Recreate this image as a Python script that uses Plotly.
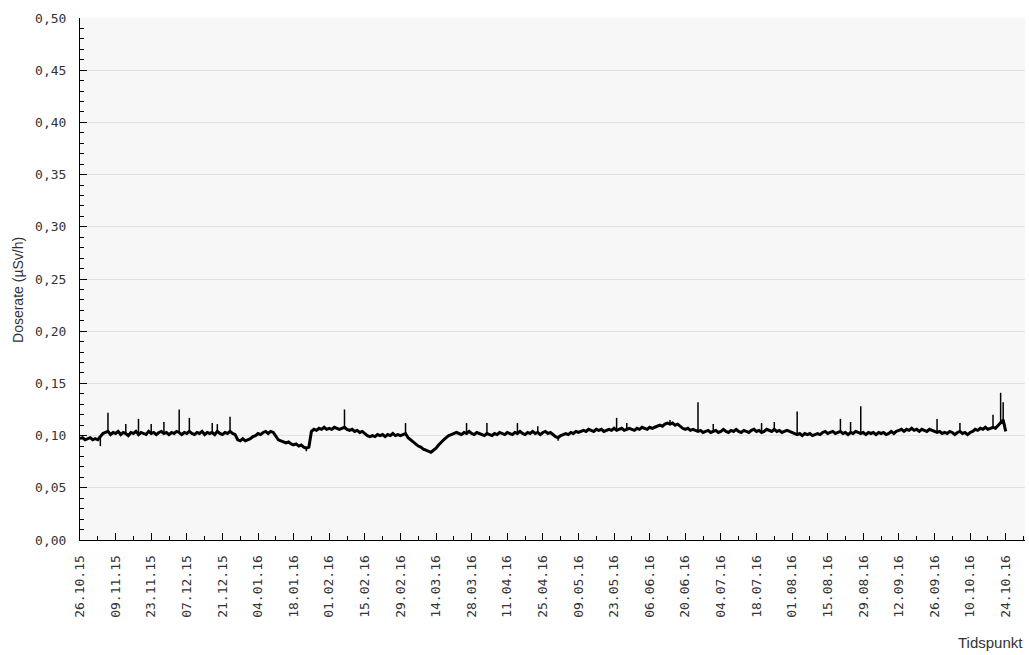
import pandas as pd
import plotly.graph_objects as go

# Daily dose-rate readings (µSv/h)
oct15 = [0.097, 0.098, 0.096, 0.097, 0.098, 0.096]
nov15 = [0.097, 0.096, 0.099, 0.102, 0.103, 0.104, 0.101, 0.103, 0.102, 0.104,
         0.101, 0.103, 0.102, 0.100, 0.103, 0.102, 0.104, 0.101, 0.103, 0.102,
         0.101, 0.104, 0.102, 0.103, 0.101, 0.103, 0.104, 0.102, 0.103, 0.101]
dec15 = [0.103, 0.102, 0.104, 0.103, 0.101, 0.103, 0.102, 0.104, 0.102, 0.101,
         0.103, 0.102, 0.104, 0.101, 0.103, 0.102, 0.103, 0.101, 0.104, 0.102,
         0.101, 0.103, 0.102, 0.104, 0.102, 0.101, 0.096, 0.095, 0.097, 0.095, 0.096]
jan16 = [0.097, 0.099, 0.100, 0.102, 0.101, 0.103, 0.104, 0.102, 0.104, 0.103,
         0.099, 0.096, 0.095, 0.094, 0.093, 0.094, 0.092, 0.091, 0.092, 0.090,
         0.091, 0.089, 0.088, 0.089, 0.104, 0.106, 0.105, 0.107, 0.106, 0.108, 0.106]
feb16 = [0.107, 0.106, 0.108, 0.107, 0.106, 0.107, 0.108, 0.106, 0.105, 0.106,
         0.104, 0.105, 0.103, 0.104, 0.102, 0.100, 0.099, 0.100, 0.099, 0.101,
         0.100, 0.101, 0.099, 0.101, 0.100, 0.102, 0.100, 0.101, 0.100]
mar16 = [0.101, 0.102, 0.098, 0.096, 0.094, 0.092, 0.090, 0.089, 0.087, 0.086,
         0.085, 0.084, 0.086, 0.088, 0.091, 0.094, 0.096, 0.098, 0.100, 0.101,
         0.102, 0.103, 0.102, 0.101, 0.103, 0.102, 0.104, 0.102, 0.101, 0.103, 0.102]
apr16 = [0.101, 0.100, 0.102, 0.101, 0.100, 0.102, 0.101, 0.103, 0.102, 0.101,
         0.103, 0.102, 0.101, 0.103, 0.102, 0.104, 0.102, 0.101, 0.103, 0.102,
         0.104, 0.102, 0.103, 0.101, 0.103, 0.104, 0.102, 0.103, 0.101, 0.099]
may16 = [0.098, 0.100, 0.101, 0.102, 0.101, 0.103, 0.102, 0.104, 0.103, 0.104,
         0.105, 0.104, 0.106, 0.105, 0.104, 0.106, 0.105, 0.106, 0.104, 0.105,
         0.106, 0.105, 0.107, 0.105, 0.106, 0.107, 0.105, 0.106, 0.107, 0.106, 0.105]
jun16 = [0.107, 0.106, 0.108, 0.107, 0.106, 0.108, 0.107, 0.108, 0.109, 0.110,
         0.109, 0.111, 0.112, 0.111, 0.112, 0.110, 0.111, 0.109, 0.107, 0.106,
         0.107, 0.105, 0.106, 0.105, 0.104, 0.105, 0.103, 0.104, 0.105, 0.103]
jul16 = [0.104, 0.105, 0.103, 0.104, 0.106, 0.104, 0.103, 0.105, 0.104, 0.106,
         0.104, 0.103, 0.105, 0.104, 0.103, 0.105, 0.106, 0.104, 0.105, 0.103,
         0.104, 0.106, 0.105, 0.104, 0.106, 0.104, 0.105, 0.103, 0.104, 0.105, 0.104]
aug16 = [0.103, 0.102, 0.101, 0.102, 0.100, 0.102, 0.101, 0.102, 0.100, 0.101,
         0.102, 0.101, 0.103, 0.104, 0.102, 0.103, 0.104, 0.102, 0.103, 0.104,
         0.102, 0.103, 0.101, 0.103, 0.102, 0.104, 0.103, 0.102, 0.103, 0.101, 0.103]
sep16 = [0.102, 0.103, 0.101, 0.103, 0.102, 0.103, 0.101, 0.102, 0.104, 0.102,
         0.104, 0.105, 0.106, 0.104, 0.106, 0.105, 0.107, 0.105, 0.106, 0.104,
         0.106, 0.105, 0.104, 0.106, 0.105, 0.104, 0.103, 0.104, 0.102, 0.103]
oct16 = [0.102, 0.104, 0.103, 0.101, 0.103, 0.104, 0.102, 0.103, 0.101, 0.103,
         0.104, 0.106, 0.105, 0.107, 0.106, 0.108, 0.106, 0.107, 0.108, 0.107,
         0.110, 0.112, 0.115, 0.104]

# Short-lived peaks / dips between daily readings
spike_times = ["2015-11-03", "2015-11-06", "2015-11-13", "2015-11-18",
               "2015-11-23", "2015-11-28", "2015-12-04", "2015-12-08",
               "2015-12-17", "2015-12-19", "2015-12-24", "2016-01-23",
               "2016-02-07", "2016-03-02", "2016-03-26", "2016-04-03",
               "2016-04-15", "2016-04-23", "2016-05-01", "2016-05-24",
               "2016-05-28", "2016-06-14", "2016-06-25", "2016-07-01",
               "2016-07-20", "2016-07-25", "2016-08-03", "2016-08-20",
               "2016-08-24", "2016-08-28", "2016-09-27", "2016-10-06",
               "2016-10-19", "2016-10-22", "2016-10-23"]
spike_values = [0.090, 0.122, 0.111, 0.116,
                0.111, 0.113, 0.125, 0.117,
                0.112, 0.111, 0.118, 0.085,
                0.125, 0.112, 0.112, 0.112,
                0.112, 0.109, 0.095, 0.117,
                0.112, 0.115, 0.132, 0.111,
                0.112, 0.113, 0.123, 0.116,
                0.113, 0.128, 0.116, 0.112,
                0.120, 0.141, 0.132]

daily_values = (oct15 + nov15 + dec15 + jan16 + feb16 + mar16 + apr16 + may16 +
                jun16 + jul16 + aug16 + sep16 + oct16)
daily = pd.Series(daily_values,
                  index=pd.date_range("2015-10-26", periods=len(daily_values), freq="D"))

# vertical spike segments starting from that day's reading
sx, sy = [], []
for t, v in zip(pd.to_datetime(spike_times), spike_values):
    sx += [t, t, None]
    sy += [daily[t], v, None]

fig = go.Figure()
fig.add_trace(go.Scatter(
    x=daily.index, y=daily.values, mode="lines",
    line=dict(color="black", width=3), showlegend=False,
))
fig.add_trace(go.Scatter(
    x=sx, y=sy, mode="lines",
    line=dict(color="black", width=1.5), showlegend=False,
))

tick_font = dict(family="DejaVu Sans Mono", size=13, color="#333333")
fig.update_layout(
    width=1029, height=655, autosize=False,
    margin=dict(l=80, r=4, t=18, b=115),
    paper_bgcolor="white", plot_bgcolor="#f7f7f7",
    separators=", ",
    showlegend=False,
)
fig.update_xaxes(
    type="date",
    range=["2015-10-26", "2016-10-31 14:00"],
    tickmode="linear", tick0="2015-10-26", dtick=14 * 86400000,
    tickformat="%d.%m.%y", tickangle=-90, tickfont=tick_font,
    ticks="inside", ticklen=7, tickcolor="black", tickwidth=1,
    minor=dict(ticks="inside", ticklen=4, tickcolor="black", dtick=7 * 86400000,
               tick0="2015-10-26", showgrid=False),
    showline=True, linecolor="black", linewidth=1,
    showgrid=False, zeroline=False, ticklabelstandoff=9,
)
fig.update_yaxes(
    range=[0, 0.5], tickmode="linear", tick0=0, dtick=0.05,
    tickformat=".2f", tickfont=tick_font,
    ticks="inside", ticklen=7, tickcolor="black", tickwidth=1,
    minor=dict(ticks="inside", ticklen=4, tickcolor="black", dtick=0.01, showgrid=False),
    showline=True, linecolor="black", linewidth=1,
    showgrid=True, gridcolor="#e2e2e2", gridwidth=1, zeroline=False,
    ticklabelstandoff=10,
)
fig.add_annotation(
    text="Doserate (µSv/h)", xref="paper", yref="paper",
    x=-0.0656, y=0.479, textangle=-90, showarrow=False,
    font=dict(family="Liberation Sans", size=14, color="#333333"),
    xanchor="center", yanchor="middle",
)
fig.add_annotation(
    text="Tidspunkt", xref="paper", yref="paper",
    x=1.0, y=-0.197, showarrow=False,
    font=dict(family="Liberation Sans", size=15, color="#333333"),
    xanchor="right", yanchor="middle",
)

fig.write_html("out.html", config={"displayModeBar": False},
               post_script="document.body.style.margin='0px';")
